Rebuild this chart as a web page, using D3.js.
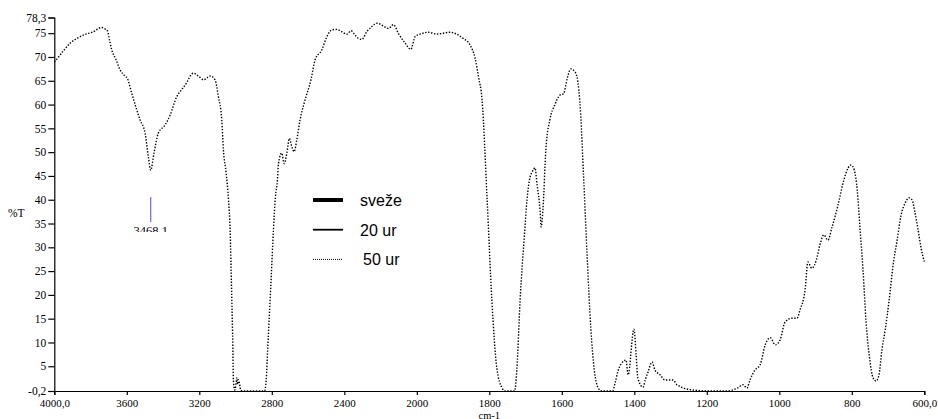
<!DOCTYPE html>
<html>
<head>
<meta charset="utf-8">
<script src="https://cdn.jsdelivr.net/npm/d3@7"></script>
<style>
  html, body { margin: 0; padding: 0; background: #fff; }
  svg { display: block; }
  .serif { font-family: "Liberation Serif", "Times New Roman", "DejaVu Serif", serif; }
  .sans { font-family: "Liberation Sans", Arial, sans-serif; }
</style>
</head>
<body>
<svg id="chart" width="938" height="419"></svg>
<script>
// IR spectrum, %T against wavenumber (cm-1)
const wavenumber = [
  4000, 3992, 3950, 3913, 3870, 3840, 3785, 3738, 3720, 3707, 3695, 3683, 3660, 3637, 3610, 3597,
  3573, 3550, 3527, 3499, 3481, 3468, 3450, 3426, 3389, 3361, 3324, 3300, 3278, 3233, 3205, 3177,
  3140, 3113, 3095, 3076, 3067, 3052, 3039, 3030, 3021, 3015, 3012, 3004, 2997, 2993, 2989, 2985,
  2979, 2971, 2957, 2840, 2831, 2822, 2813, 2804, 2791, 2780, 2769, 2763, 2745, 2732, 2717, 2703,
  2690, 2677, 2662, 2644, 2620, 2584, 2561, 2524, 2496, 2468, 2441, 2413, 2386, 2362, 2340, 2322,
  2303, 2276, 2248, 2220, 2184, 2156, 2129, 2101, 2064, 2033, 2009, 1991, 1968, 1945, 1927, 1908,
  1890, 1872, 1853, 1839, 1830, 1820, 1806, 1793, 1779, 1765, 1758, 1730, 1724, 1715, 1704, 1696,
  1688, 1679, 1674, 1668, 1660, 1657, 1652, 1644, 1633, 1619, 1605, 1595, 1585, 1575, 1565, 1558,
  1548, 1540, 1530, 1520, 1510, 1500, 1490, 1460, 1453, 1445, 1436, 1423, 1417, 1401, 1395, 1390,
  1376, 1370, 1362, 1351, 1343, 1329, 1315, 1293, 1282, 1238, 1191, 1144, 1116, 1100, 1089, 1081,
  1067, 1053, 1039, 1025, 1011, 998, 984, 965, 951, 943, 929, 921, 910, 898, 888, 877,
  866, 855, 838, 822, 810, 802, 793, 785, 777, 769, 761, 752, 741, 733, 725, 717,
  708, 697, 686, 675, 664, 653, 642, 634, 626, 617, 609, 600
];
const transmittance50 = [
  69.0, 69.3, 71.3, 72.9, 74.0, 74.6, 75.3, 76.2, 75.9, 75.5, 73.5, 71.5, 69.5, 67.3, 66.0, 65.5,
  62.4, 59.5, 56.8, 54.0, 49.0, 46.2, 49.8, 54.0, 55.7, 57.8, 61.7, 63.0, 64.1, 66.6, 66.0, 65.2,
  66.0, 65.2, 61.7, 56.8, 50.5, 45.6, 40.0, 33.6, 19.6, 9.1, 2.1, 0.0, 1.5, 2.6, 1.2, 2.2,
  1.5, -0.1, -0.2, -0.2, 2.1, 9.1, 16.1, 23.1, 33.6, 40.6, 44.1, 47.6, 49.8, 47.6, 49.8, 52.9,
  51.2, 50.1, 52.6, 56.8, 60.5, 65.2, 69.4, 71.5, 74.3, 75.7, 75.8, 75.3, 74.8, 75.5, 74.6, 73.9,
  73.7, 75.3, 76.4, 77.1, 76.5, 76.0, 76.8, 74.9, 72.9, 71.6, 74.3, 74.8, 75.2, 74.8, 75.0, 75.2,
  74.8, 73.9, 72.5, 69.7, 65.9, 61.0, 40.0, 19.0, 4.5, 0.5, -0.2, -0.2, 4.3, 19.0, 31.6, 40.0,
  44.6, 46.2, 46.7, 43.1, 37.8, 34.3, 38.0, 50.5, 56.8, 60.0, 62.0, 62.3, 65.5, 67.5, 67.0, 65.8,
  58.0, 45.0, 28.0, 13.0, 4.0, 0.5, -0.2, -0.2, 1.5, 4.0, 5.5, 6.3, 3.2, 12.8, 7.4, 2.5,
  0.6, 2.1, 3.8, 5.9, 4.2, 3.2, 2.1, 2.1, 1.1, 0.0, -0.2, -0.2, 0.4, 1.1, 0.4, 2.1,
  4.2, 5.3, 9.5, 11.0, 9.5, 10.5, 14.3, 15.1, 15.1, 16.8, 21.0, 26.9, 25.6, 27.3, 30.5, 32.6,
  31.5, 34.1, 38.9, 44.1, 46.7, 47.3, 46.2, 42.0, 33.6, 25.2, 14.7, 7.4, 2.5, 1.9, 3.2, 8.4,
  12.6, 18.9, 26.3, 31.5, 36.8, 39.3, 40.4, 40.0, 37.4, 33.6, 29.9, 27.0
];

const xTicks = [4000, 3600, 3200, 2800, 2400, 2000, 1800, 1600, 1400, 1200, 1000, 800, 600];
const xTickLabels = ["4000,0", "3600", "3200", "2800", "2400", "2000", "1800", "1600", "1400", "1200", "1000", "800", "600,0"];
const yTicks = [78.3, 75, 70, 65, 60, 55, 50, 45, 40, 35, 30, 25, 20, 15, 10, 5, -0.2];
const yTickLabels = ["78,3", "75", "70", "65", "60", "55", "50", "45", "40", "35", "30", "25", "20", "15", "10", "5", "-0,2"];

const seriesNames = ["sveže", "20 ur", "50 ur"];
const peakPosition = 3468.1;
const peakLabel = "3468,1";

const svg = d3.select("#chart");

// Wavenumber axis is compressed above 2000 cm-1
const x = d3.scaleLinear()
  .domain([4000, 2000, 600])
  .range([54.3, 416.8, 924.3]);
const y = d3.scaleLinear()
  .domain([-0.2, 78.3])
  .range([391, 17.5]);

// Axes
const xAxis = d3.axisBottom(x)
  .tickValues(xTicks)
  .tickSize(4)
  .tickFormat((d, i) => xTickLabels[i]);
const gx = svg.append("g")
  .attr("transform", `translate(0,${y(-0.2)})`)
  .call(xAxis);
gx.attr("font-family", null).attr("font-size", null);
gx.select(".domain").attr("stroke", "#000").attr("stroke-width", 1.2);
gx.selectAll(".tick line").attr("stroke", "#000").attr("stroke-width", 1.2);
gx.selectAll(".tick text")
  .attr("class", "serif")
  .style("font-size", "11px").attr("fill", "#000")
  .attr("dy", null).attr("y", 16);

const yAxis = d3.axisLeft(y)
  .tickValues(yTicks)
  .tickSize(6)
  .tickFormat((d, i) => yTickLabels[i]);
const gy = svg.append("g")
  .attr("transform", `translate(${x(4000)},0)`)
  .call(yAxis);
gy.attr("font-family", null).attr("font-size", null);
gy.select(".domain").attr("stroke", "#000").attr("stroke-width", 1.2);
gy.selectAll(".tick line").attr("stroke", "#000").attr("stroke-width", 1.2);
gy.selectAll(".tick text")
  .attr("class", "serif")
  .style("font-size", "11.5px").attr("fill", "#000")
  .attr("x", -8);

// Axis titles
svg.append("text")
  .attr("class", "serif")
  .attr("x", 8).attr("y", 217)
  .style("font-size", "11.5px")
  .text("%T");
svg.append("text")
  .attr("class", "serif")
  .attr("x", x(1800)).attr("y", 418.5)
  .attr("text-anchor", "middle")
  .style("font-size", "10.5px")
  .text("cm-1");

// Spectrum trace
const points = wavenumber.map((w, i) => [w, transmittance50[i]]);
const line = d3.line()
  .x(d => x(d[0]))
  .y(d => y(d[1]))
  .curve(d3.curveMonotoneX);
svg.append("path")
  .datum(points)
  .attr("fill", "none")
  .attr("stroke", "#000")
  .attr("stroke-width", 1.4)
  .attr("stroke-dasharray", "1.4 1.6")
  .attr("d", line);

// Peak marker
const clip = svg.append("defs").append("clipPath").attr("id", "peakclip");
clip.append("rect").attr("x", 0).attr("y", 0).attr("width", 938).attr("height", 232);
svg.append("line")
  .attr("x1", x(peakPosition)).attr("x2", x(peakPosition))
  .attr("y1", 197).attr("y2", 222)
  .attr("stroke", "#6666ff").attr("stroke-width", 1.2);
svg.append("text")
  .attr("class", "serif")
  .attr("clip-path", "url(#peakclip)")
  .attr("x", x(peakPosition)).attr("y", 235)
  .attr("text-anchor", "middle")
  .style("font-size", "12.5px")
  .text(peakLabel);

// Legend
const legendStyles = [
  { width: 4, dash: null },
  { width: 1.8, dash: null },
  { width: 1, dash: "1 1" }
];
const legend = svg.append("g");
seriesNames.forEach((name, i) => {
  const ly = 200 + i * 29.7;
  legend.append("line")
    .attr("x1", 313).attr("x2", 343)
    .attr("y1", ly).attr("y2", ly)
    .attr("stroke", "#000")
    .attr("stroke-width", legendStyles[i].width)
    .attr("stroke-dasharray", legendStyles[i].dash);
  legend.append("text")
    .attr("class", "sans")
    .attr("x", i === 2 ? 363 : 360).attr("y", ly + 6)
    .style("font-size", "16px")
    .text(name);
});
</script>
</body>
</html>
